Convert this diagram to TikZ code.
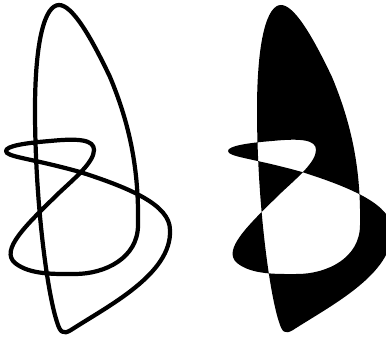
\documentclass[tikz,border=0pt]{standalone}
\usepackage{tikz}

% the looped closed curve, in pixel units (y grows downwards)
\newcommand{\looppath}{(59,5) .. controls (45,5) and (35,40) .. (35,110)
  .. controls (35,200) and (47,292) .. (57,322)
  .. controls (60,332) and (63,335) .. (71,330)
  .. controls (108,306) and (172,274) .. (170,230)
  .. controls (170,205) and (130,188) .. (80,172)
  .. controls (30,158) and (6,157) .. (6,151)
  .. controls (6,146) and (25,143) .. (50,141)
  .. controls (80,138) and (94,140) .. (94,150)
  .. controls (94,162) and (75,178) .. (60,192)
  .. controls (25,226) and (0,250) .. (15,263)
  .. controls (30,275) and (55,274) .. (75,274)
  .. controls (105,274) and (138,258) .. (138,225)
  .. controls (139,170) and (130,125) .. (110,77)
  .. controls (90,35) and (72,5) .. (59,5) -- cycle}

\begin{document}
\begin{tikzpicture}[x=0.03cm, y=-0.03cm, curve/.style={line width=3.6pt, line join=round}]
	\useasboundingbox (0,0) rectangle (386,343);
	\draw[curve] \looppath;
	\begin{scope}[xshift=6.66cm]
		\fill[even odd rule] \looppath;
	\end{scope}
\end{tikzpicture}
\end{document}
